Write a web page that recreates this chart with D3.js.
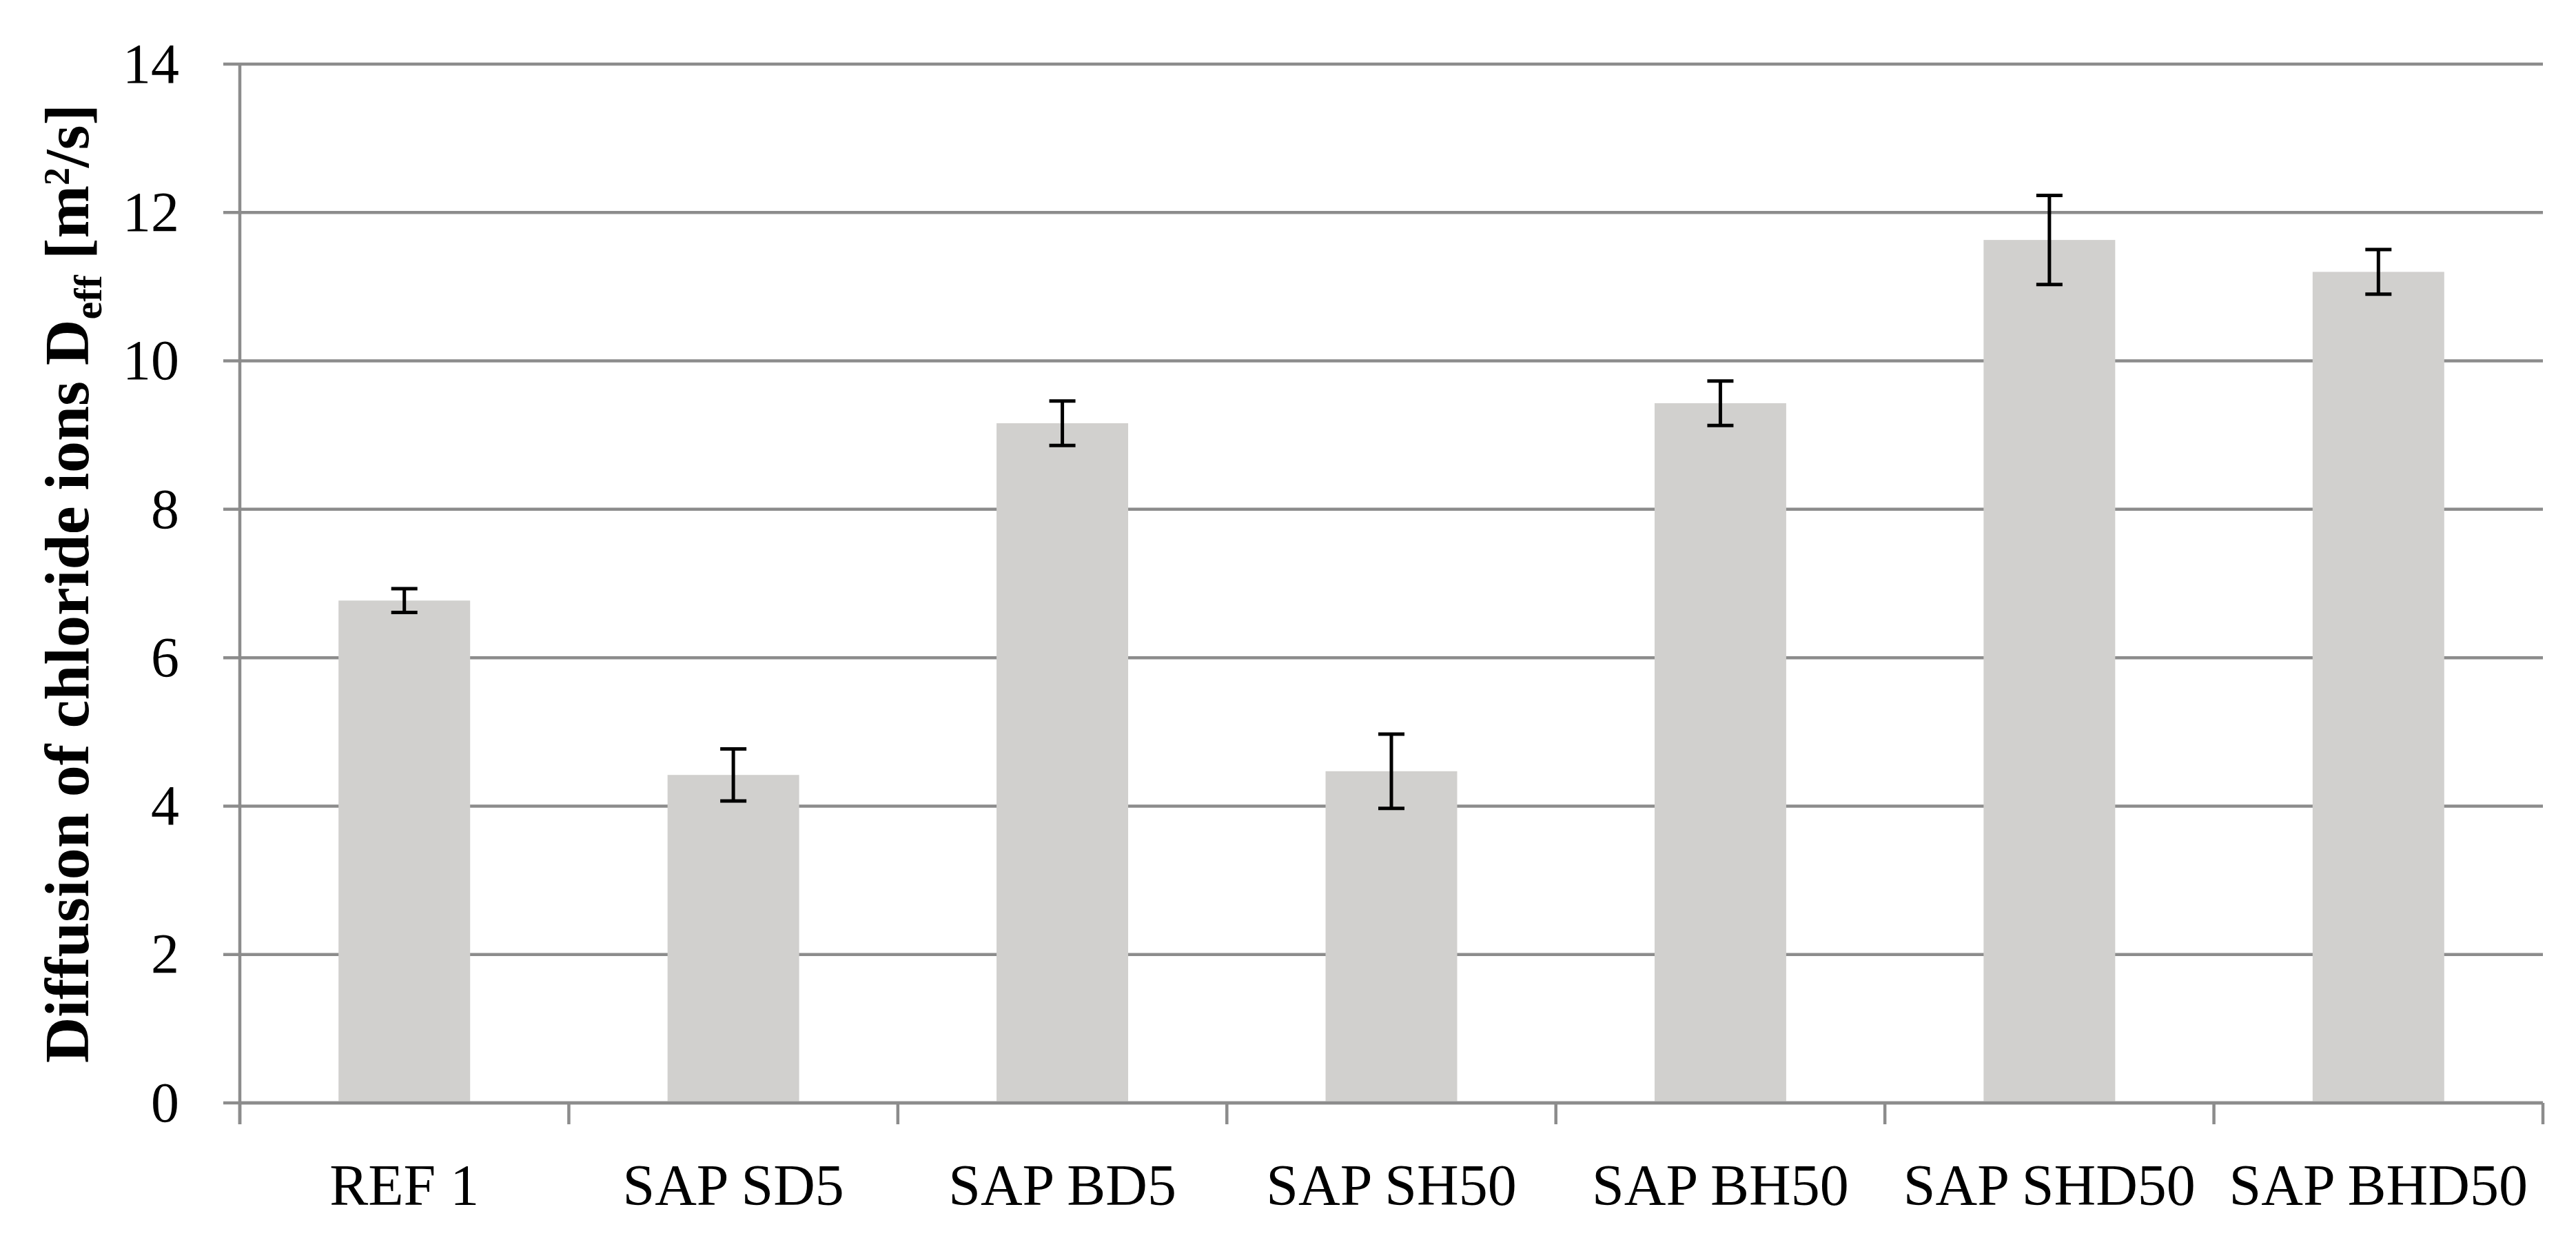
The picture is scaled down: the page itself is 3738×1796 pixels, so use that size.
<!DOCTYPE html>
<html>
<head>
<meta charset="utf-8">
<script src="https://cdn.jsdelivr.net/npm/d3@7"></script>
<style>
  body { margin: 0; background: #fff; }
  text { font-family: "Liberation Serif", "Times New Roman", serif; fill: #000; }
</style>
</head>
<body>
<script>
const WIDTH = 3738;
const HEIGHT = 1796;

// data
const categories = ['REF 1', 'SAP SD5', 'SAP BD5', 'SAP SH50', 'SAP BH50', 'SAP SHD50', 'SAP BHD50'];
const values = [6.77, 4.42, 9.16, 4.47, 9.43, 11.63, 11.2];
const errors = [0.16, 0.35, 0.30, 0.50, 0.30, 0.60, 0.30];
const yTicks = [0, 2, 4, 6, 8, 10, 12, 14];

const plot = {left: 348, right: 3690, top: 93, bottom: 1600};
const GRID = '#8c8c8c';

const svg = d3.select('body')
  .append('svg')
  .attr('width', WIDTH)
  .attr('height', HEIGHT);

svg.append('rect')
  .attr('width', WIDTH)
  .attr('height', HEIGHT)
  .attr('fill', '#fff');

const y = d3.scaleLinear()
  .domain([0, 14])
  .range([plot.bottom, plot.top]);

// slots for ticks, bars sit in the middle 40% of each slot
const slot = d3.scaleBand()
  .domain(categories)
  .range([plot.left, plot.right])
  .padding(0);

const x = d3.scaleBand()
  .domain(categories)
  .range([plot.left, plot.right])
  .paddingInner(0.6)
  .paddingOuter(0.3);

// gridlines (with the small tick left of the axis)
svg.append('g')
  .selectAll('line')
  .data(yTicks)
  .enter()
  .append('line')
  .attr('x1', plot.left - 24)
  .attr('x2', plot.right)
  .attr('y1', d => y(d))
  .attr('y2', d => y(d))
  .attr('stroke', GRID)
  .attr('stroke-width', 4.5);

// y axis labels
const yAxis = svg.append('g')
  .attr('transform', `translate(${plot.left},0)`)
  .call(d3.axisLeft(y).tickValues(yTicks).tickSize(0).tickPadding(88));
yAxis.select('.domain').remove();
yAxis.selectAll('text')
  .style('font-family', '"Liberation Serif", serif')
  .style('font-size', '82px');

// bars
svg.append('g')
  .selectAll('rect')
  .data(categories)
  .enter()
  .append('rect')
  .attr('x', d => x(d))
  .attr('width', x.bandwidth())
  .attr('y', (d, i) => y(values[i]))
  .attr('height', (d, i) => y(0) - y(values[i]))
  .attr('fill', '#d1d0ce');

// vertical axis line
svg.append('line')
  .attr('x1', plot.left)
  .attr('x2', plot.left)
  .attr('y1', plot.top)
  .attr('y2', plot.bottom + 31)
  .attr('stroke', GRID)
  .attr('stroke-width', 4.5);

// x axis line + boundary ticks
svg.append('line')
  .attr('x1', plot.left)
  .attr('x2', plot.right)
  .attr('y1', y(0))
  .attr('y2', y(0))
  .attr('stroke', GRID)
  .attr('stroke-width', 4.5);

const bounds = categories.map(c => slot(c)).concat([plot.right]);
svg.append('g')
  .selectAll('line')
  .data(bounds)
  .enter()
  .append('line')
  .attr('x1', d => d)
  .attr('x2', d => d)
  .attr('y1', y(0))
  .attr('y2', y(0) + 31)
  .attr('stroke', GRID)
  .attr('stroke-width', 4.5);

// x labels
const xAxis = svg.append('g')
  .attr('transform', `translate(0,${y(0)})`)
  .call(d3.axisBottom(slot).tickSize(0).tickPadding(88));
xAxis.select('.domain').remove();
xAxis.selectAll('text')
  .style('font-family', '"Liberation Serif", serif')
  .style('font-size', '84px');

// error bars
const eb = svg.append('g')
  .selectAll('g')
  .data(categories)
  .enter()
  .append('g')
  .attr('stroke', '#000')
  .attr('stroke-width', 5);

const cx = d => x(d) + x.bandwidth() / 2;
eb.append('line')
  .attr('x1', cx).attr('x2', cx)
  .attr('y1', (d, i) => y(values[i] + errors[i]))
  .attr('y2', (d, i) => y(values[i] - errors[i]));
eb.append('line')
  .attr('x1', d => cx(d) - 19).attr('x2', d => cx(d) + 19)
  .attr('y1', (d, i) => y(values[i] + errors[i]))
  .attr('y2', (d, i) => y(values[i] + errors[i]));
eb.append('line')
  .attr('x1', d => cx(d) - 19).attr('x2', d => cx(d) + 19)
  .attr('y1', (d, i) => y(values[i] - errors[i]))
  .attr('y2', (d, i) => y(values[i] - errors[i]));

// y title
const title = svg.append('text')
  .attr('transform', `translate(128,${(plot.top + plot.bottom) / 2}) rotate(-90)`)
  .attr('text-anchor', 'middle')
  .style('font-size', '92px')
  .style('font-weight', 'bold');
title.append('tspan').text('Diffusion of chloride ions D');
title.append('tspan').attr('dy', 19).style('font-size', '58px').text('eff');
title.append('tspan').attr('dy', -19).text(' [m');
title.append('tspan').attr('dy', -28).style('font-size', '52px').text('2');
title.append('tspan').attr('dy', 28).text('/s]');
</script>
</body>
</html>
